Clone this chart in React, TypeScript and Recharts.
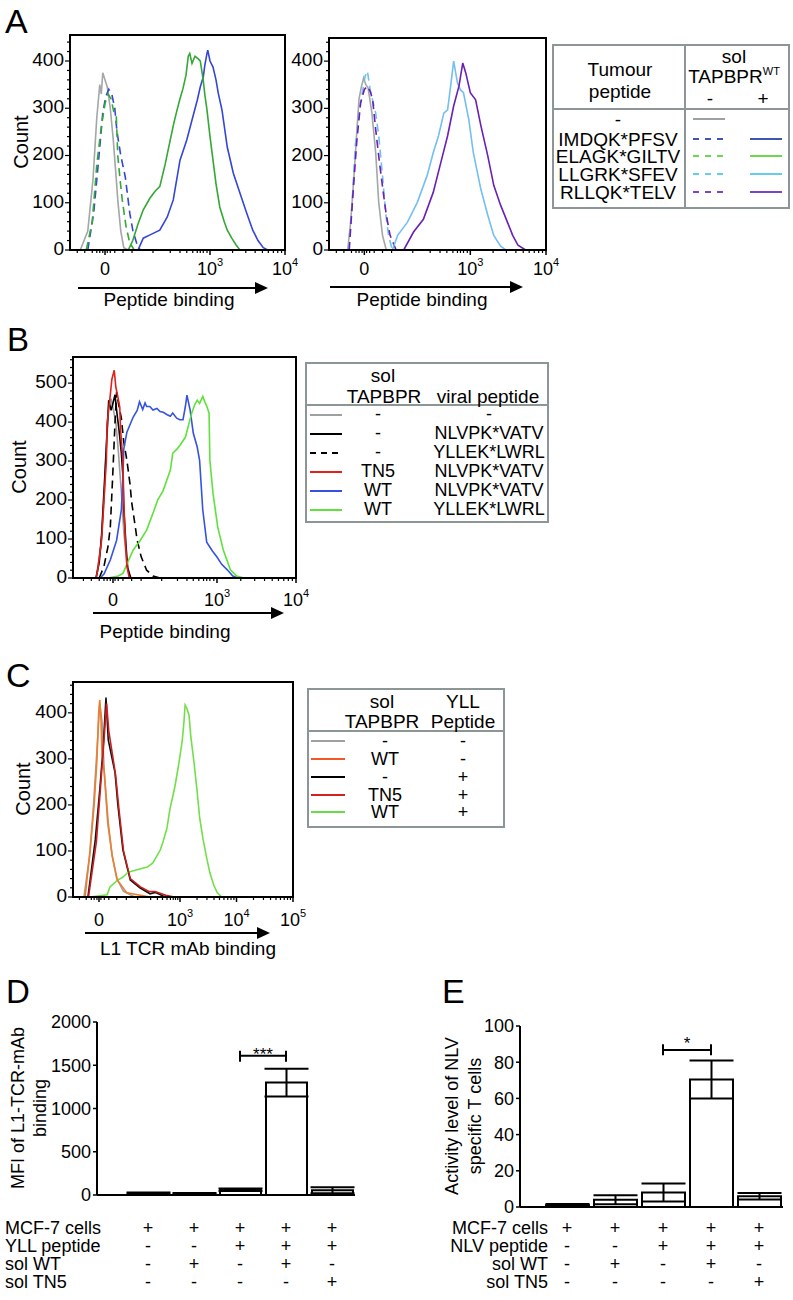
import React from 'react';
import {
  LineChart, Line, XAxis, YAxis, ReferenceArea, BarChart, Bar, ErrorBar, ReferenceLine,
} from 'recharts';

const FONT = '"Liberation Sans", Arial, Helvetica, sans-serif';

type Pt = [number, number];

// x = display position in decades (biexponential-ish), y = count

// Panel A left
const aLeftNone: Pt[] = [[1.27,0],[1.37,40],[1.44,150],[1.49,280],[1.53,350],[1.55,330],[1.57,375],[1.60,360],[1.63,345],[1.67,300],[1.71,233],[1.75,150],[1.77,106],[1.81,40],[1.85,5],[1.91,0]];
const aImdqkNo: Pt[] = [[1.37,0],[1.45,80],[1.52,200],[1.57,290],[1.61,325],[1.65,340],[1.69,330],[1.73,300],[1.76,250],[1.81,200],[1.87,155],[1.93,78],[1.97,42],[2.03,10],[2.07,0]];
const aElagkNo: Pt[] = [[1.35,0],[1.43,60],[1.49,180],[1.55,260],[1.60,310],[1.64,330],[1.68,320],[1.72,290],[1.75,285],[1.77,200],[1.80,150],[1.83,106],[1.88,50],[1.93,15],[1.99,0]];
const aImdqkWt: Pt[] = [[2.04,0],[2.11,25],[2.20,32],[2.33,42],[2.43,70],[2.51,106],[2.60,190],[2.69,233],[2.76,275],[2.83,317],[2.87,345],[2.91,366],[2.93,390],[2.96,416],[2.97,423],[3.00,400],[3.04,387],[3.08,360],[3.11,332],[3.16,296],[3.23,218],[3.31,163],[3.40,120],[3.49,78],[3.57,42],[3.64,20],[3.71,5],[3.77,0],[4,0]];
const aElagkWt: Pt[] = [[1.133,0],[1.91,0],[1.97,20],[2.04,55],[2.11,85],[2.20,110],[2.27,125],[2.33,134],[2.40,180],[2.47,233],[2.52,270],[2.56,296],[2.60,320],[2.64,342],[2.68,370],[2.71,410],[2.73,416],[2.76,395],[2.80,410],[2.84,405],[2.87,400],[2.91,359],[2.93,330],[2.96,296],[3.00,240],[3.04,190],[3.08,140],[3.13,91],[3.19,60],[3.23,42],[3.29,25],[3.35,10],[3.40,0]];

// Panel A right
const aRightNone: Pt[] = [[1.38,0],[1.42,60],[1.46,150],[1.50,250],[1.53,320],[1.56,345],[1.59,364],[1.62,350],[1.65,343],[1.70,290],[1.75,206],[1.79,101],[1.84,31],[1.89,0]];
const aLlgrkNo: Pt[] = [[1.39,0],[1.44,100],[1.48,221],[1.55,311],[1.61,368],[1.64,379],[1.68,337],[1.75,290],[1.79,242],[1.84,158],[1.88,80],[1.92,31],[1.97,0]];
const aRllqkNo: Pt[] = [[1.40,0],[1.45,120],[1.50,230],[1.55,311],[1.60,340],[1.64,347],[1.68,335],[1.71,318],[1.75,255],[1.80,185],[1.85,122],[1.89,74],[1.94,31],[2.02,0]];
const aLlgrkWt: Pt[] = [[1.97,0],[2.04,31],[2.17,59],[2.30,101],[2.43,158],[2.51,206],[2.58,242],[2.65,290],[2.70,297],[2.74,347],[2.78,400],[2.83,354],[2.87,339],[2.91,333],[2.98,276],[3.04,206],[3.14,128],[3.23,74],[3.31,31],[3.40,8],[3.47,0]];
const aRllqkWt: Pt[] = [[1.133,0],[2.12,0],[2.25,38],[2.38,65],[2.51,122],[2.61,185],[2.70,242],[2.78,305],[2.85,347],[2.90,396],[2.94,375],[3.00,333],[3.07,318],[3.14,263],[3.23,200],[3.31,137],[3.40,95],[3.49,59],[3.56,31],[3.63,10],[3.73,0],[4,0]];

// Panel B
const bNone: Pt[] = [[1.47,0],[1.53,80],[1.57,200],[1.60,330],[1.63,440],[1.66,460],[1.69,430],[1.72,400],[1.75,330],[1.79,220],[1.82,120],[1.86,40],[1.90,0]];
const bNlvNo: Pt[] = [[1.47,0],[1.51,40],[1.54,110],[1.58,260],[1.61,380],[1.63,456],[1.66,430],[1.68,445],[1.71,470],[1.73,430],[1.76,380],[1.79,320],[1.81,260],[1.82,180],[1.85,80],[1.87,25],[1.91,0]];
const bYllNo: Pt[] = [[1.51,0],[1.57,30],[1.62,80],[1.65,130],[1.68,260],[1.71,400],[1.73,477],[1.76,440],[1.79,410],[1.82,350],[1.86,302],[1.90,240],[1.92,195],[1.96,140],[1.99,97],[2.04,55],[2.11,20],[2.19,5],[2.28,0]];
const bNlvTn5: Pt[] = [[1.47,0],[1.49,20],[1.54,97],[1.57,200],[1.60,300],[1.61,397],[1.65,470],[1.67,510],[1.70,533],[1.72,490],[1.75,460],[1.77,438],[1.78,380],[1.81,300],[1.82,200],[1.84,97],[1.86,30],[1.89,0]];
const bNlvWt: Pt[] = [[1.52,0],[1.57,10],[1.65,46],[1.73,97],[1.79,175],[1.81,259],[1.82,330],[1.86,374],[1.94,413],[1.99,430],[2.02,452],[2.06,432],[2.09,449],[2.11,440],[2.15,440],[2.19,431],[2.24,435],[2.28,427],[2.32,425],[2.37,419],[2.41,415],[2.44,423],[2.49,410],[2.53,406],[2.57,406],[2.60,440],[2.62,469],[2.66,431],[2.70,372],[2.75,336],[2.78,302],[2.82,175],[2.87,92],[2.94,70],[3.00,54],[3.06,35],[3.13,21],[3.20,5],[3.27,0]];
const bYllWt: Pt[] = [[1.178,0],[1.62,0],[1.75,5],[1.81,12],[1.87,40],[1.94,72],[2.03,97],[2.11,123],[2.19,166],[2.25,200],[2.32,225],[2.41,277],[2.44,320],[2.49,330],[2.53,340],[2.60,361],[2.65,400],[2.68,423],[2.72,445],[2.75,456],[2.78,448],[2.82,466],[2.85,450],[2.87,441],[2.90,423],[2.91,302],[2.95,217],[3.01,130],[3.08,72],[3.17,21],[3.25,5],[3.34,0],[4,0]];

// Panel C
const cNone: Pt[] = [[1.30,0],[1.40,90],[1.47,200],[1.53,320],[1.58,420],[1.62,380],[1.66,270],[1.72,160],[1.80,90],[1.88,40],[2.00,12],[2.20,0]];
const cWtNo: Pt[] = [[1.32,0],[1.41,102],[1.48,200],[1.53,298],[1.56,400],[1.58,428],[1.60,390],[1.62,304],[1.66,270],[1.73,161],[1.80,89],[1.89,37],[2.06,9],[2.47,0]];
const cNoYll: Pt[] = [[1.37,0],[1.50,124],[1.58,233],[1.64,326],[1.69,433],[1.73,341],[1.85,270],[1.90,200],[1.99,102],[2.12,37],[2.29,20],[2.47,7],[2.56,10],[2.70,2],[2.82,0]];
const cTn5Yll: Pt[] = [[1.38,0],[1.52,120],[1.60,250],[1.66,350],[1.70,420],[1.74,360],[1.86,265],[1.92,190],[2.00,100],[2.12,40],[2.30,22],[2.45,12],[2.56,12],[2.75,4],[2.90,0],[5,0]];
const cWtYll: Pt[] = [[1.41,0],[1.71,5],[1.76,22],[1.90,37],[1.99,43],[2.08,54],[2.24,59],[2.42,65],[2.52,74],[2.65,102],[2.70,120],[2.77,150],[2.82,190],[2.91,240],[2.98,290],[3.04,340],[3.07,380],[3.09,417],[3.12,410],[3.16,395],[3.19,350],[3.25,290],[3.30,233],[3.35,170],[3.41,124],[3.48,80],[3.53,52],[3.60,25],[3.66,9],[3.74,0]];

// x-axis ticks (display decades)
const abMajorBase = ['0', '10', '10'];
const abMajorExp = ['', '3', '4'];
const cMajorBase = ['0', '10', '10', '10'];
const cMajorExp = ['', '3', '4', '5'];
const aMajor = [1.6, 3, 4];
const aMinor = [1.23, 1.33, 1.43, 1.49, 1.53, 1.57, 1.63, 1.67, 1.73, 1.84, 1.96, 2.24, 2.47, 2.60, 2.69, 2.77, 2.83, 2.87, 2.91, 2.96, 3.301, 3.477, 3.602, 3.699, 3.778, 3.845, 3.903, 3.954];
const bMajor = [1.684, 3, 4];
const bMinor = [1.31, 1.41, 1.51, 1.57, 1.61, 1.65, 1.71, 1.75, 1.81, 1.92, 2.04, 2.30, 2.50, 2.62, 2.70, 2.77, 2.83, 2.87, 2.91, 2.96, 3.301, 3.477, 3.602, 3.699, 3.778, 3.845, 3.903, 3.954];
const cMajor = [1.566, 3, 4, 5];
const cMinor = [1.22, 1.34, 1.43, 1.48, 1.53, 1.60, 1.66, 1.74, 1.88, 2.05, 2.25, 2.48, 2.60, 2.69, 2.77, 2.83, 2.88, 2.92, 2.96, 3.301, 3.477, 3.602, 3.699, 3.778, 3.845, 3.903, 3.954, 4.301, 4.477, 4.602, 4.699, 4.778, 4.845, 4.903, 4.954];

// legends
const aLegendPeptides = ['-', 'IMDQK*PFSV', 'ELAGK*GILTV', 'LLGRK*SFEV', 'RLLQK*TELV'];
const aLegendColors = ['#9aa3a3', '#3f56b5', '#6bd84f', '#66ccee', '#7b45c8'];
const bLegendTapbpr = ['-', '-', '-', 'TN5', 'WT', 'WT'];
const bLegendPeptide = ['-', 'NLVPK*VATV', 'YLLEK*LWRL', 'NLVPK*VATV', 'NLVPK*VATV', 'YLLEK*LWRL'];
const bLegendColors = ['#a0a0a0', '#000000', '#000000', '#e0201b', '#3553e0', '#5fe23c'];
const bLegendDashed = [false, false, true, false, false, false];
const cLegendTapbpr = ['-', 'WT', '-', 'TN5', 'WT'];
const cLegendPeptide = ['-', '-', '+', '+', '+'];
const cLegendColors = ['#a0a0a0', '#f05a28', '#000000', '#d42020', '#66dd44'];

// Panels D and E
const groups = ['g1', 'g2', 'g3', 'g4', 'g5'];
const dMfi = [20, 15, 60, 1300, 55];
const dMfiErr = [10, 8, 15, 160, 35];
const dRowLabels = ['MCF-7 cells', 'YLL peptide', 'sol WT', 'sol TN5'];
const dRows = [['+', '+', '+', '+', '+'], ['-', '-', '+', '+', '+'], ['-', '+', '-', '+', '-'], ['-', '-', '-', '-', '+']];
const eActivity = [1, 4, 8, 70.5, 6];
const eActivityErr = [0.6, 2.5, 5, 10.5, 1.8];
const eRowLabels = ['MCF-7 cells', 'NLV peptide', 'sol WT', 'sol TN5'];
const eRows = [['+', '+', '+', '+', '+'], ['-', '-', '+', '+', '+'], ['-', '+', '-', '+', '-'], ['-', '-', '-', '-', '+']];

const rowY = [1228, 1246, 1264, 1282];

type Curve = { pts: Pt[]; color: string; dashed?: boolean };

function FlowPlot(props: any) {
  const { plotLeft, plotTop, plotW, plotH, xDomain, yMax, xMajor, xBase, xExp, xMinor, labelDy, curves } = props;
  const yAxisW = 62, mTop = 4, mRight = 24, xAxisH = 40;
  const w = yAxisW + plotW + mRight;
  const h = mTop + plotH + xAxisH;
  const yTicks: number[] = [];
  for (let v = 0; v <= yMax; v += 20) yTicks.push(v);
  const xTicks = [...xMajor, ...xMinor].sort((a: number, b: number) => a - b);

  const xTick = (p: any) => {
    const { x, y, payload } = p;
    const i = xMajor.findIndex((v: number) => Math.abs(v - payload.value) < 1e-6);
    if (i < 0) return <line x1={x} x2={x} y1={y} y2={y + 3} stroke="#000" strokeWidth={1.2} />;
    return (
      <g>
        <line x1={x} x2={x} y1={y} y2={y + 5} stroke="#000" strokeWidth={1.5} />
        <text x={x} y={y + labelDy} textAnchor="middle" fontSize={18} fontFamily={FONT} fill="#000">
          {xBase[i]}
          {xExp[i] ? <tspan fontSize={11} dy={-9}>{xExp[i]}</tspan> : null}
        </text>
      </g>
    );
  };
  const yTick = (p: any) => {
    const { x, y, payload } = p;
    const major = payload.value % 100 === 0;
    return (
      <g>
        <line x1={x - (major ? 5 : 3)} x2={x} y1={y} y2={y} stroke="#000" strokeWidth={1.2} />
        {major ? (
          <text x={x - 6} y={y + 5} textAnchor="end" fontSize={19} fontFamily={FONT} fill="#000">{payload.value}</text>
        ) : null}
      </g>
    );
  };

  return (
    <div style={{ position: 'absolute', left: plotLeft - yAxisW, top: plotTop - mTop, width: w, height: h }}>
      <LineChart width={w} height={h} margin={{ top: mTop, right: mRight, bottom: 0, left: 0 }}>
        <XAxis type="number" dataKey="x" domain={xDomain} ticks={xTicks} interval={0} allowDataOverflow
          height={xAxisH} tick={xTick} tickLine={false} tickSize={0} tickMargin={0}
          axisLine={{ stroke: '#000', strokeWidth: 2 }} />
        <YAxis type="number" dataKey="y" domain={[0, yMax]} ticks={yTicks} interval={0} allowDataOverflow
          width={yAxisW} tick={yTick} tickLine={false} tickSize={0} tickMargin={0}
          axisLine={{ stroke: '#000', strokeWidth: 2 }} />
        <ReferenceArea x1={xDomain[0]} x2={xDomain[1]} y1={0} y2={yMax} fill="none" stroke="#000" strokeWidth={2} />
        {curves.map((c: Curve, k: number) => (
          <Line key={k} data={c.pts.map(([x, y]) => ({ x, y }))} dataKey="y" type="linear" dot={false}
            stroke={c.color} strokeWidth={1.6} strokeDasharray={c.dashed ? '8 5' : undefined}
            isAnimationActive={false} />
        ))}
      </LineChart>
    </div>
  );
}

function BarPanel(props: any) {
  const { left, top, yAxisW, padLeft, bandW, barSize, plotH, yMax, yTicks, values, errors, rows, axisY, bracket, stars, starOffset } = props;
  const mTop = 10, mRight = 5, xAxisH = 100;
  const w = yAxisW + padLeft + bandW * groups.length + mRight;
  const h = mTop + plotH + xAxisH;
  const data = groups.map((g, i) => ({ g, v: values[i], err: errors[i] }));
  const rowsTick = (p: any) => {
    const { x, y, payload } = p;
    const i = groups.indexOf(payload.value);
    return (
      <g>
        {rows.map((r: string[], k: number) => (
          <text key={k} x={x} y={y + rowY[k] - axisY} textAnchor="middle" dominantBaseline="central"
            fontSize={18} fontFamily={FONT} fill="#000">{r[i]}</text>
        ))}
      </g>
    );
  };
  return (
    <div style={{ position: 'absolute', left, top, width: w, height: h }}>
      <BarChart width={w} height={h} data={data} margin={{ top: mTop, right: mRight, bottom: 0, left: 0 }}>
        <XAxis dataKey="g" type="category" padding={{ left: padLeft, right: 0 }} interval={0}
          height={xAxisH} tick={rowsTick} tickLine={false} tickSize={0} tickMargin={0}
          axisLine={{ stroke: '#000', strokeWidth: 2 }} />
        <YAxis type="number" domain={[0, yMax]} ticks={yTicks} interval={0} width={yAxisW}
          tick={{ fill: '#000', fontSize: 18, fontFamily: FONT }} tickSize={4} tickMargin={2}
          tickLine={{ stroke: '#000', strokeWidth: 1.5 }} axisLine={{ stroke: '#000', strokeWidth: 2 }} />
        <Bar dataKey="v" fill="#fff" stroke="#000" strokeWidth={2} barSize={barSize} isAnimationActive={false}>
          <ErrorBar dataKey="err" width={22} stroke="#000" strokeWidth={2} direction="y" />
        </Bar>
        <ReferenceLine segment={[{ x: 'g3', y: bracket[1] }, { x: 'g4', y: bracket[1] }]} stroke="#000" strokeWidth={2}
          label={{ value: stars, position: 'top', offset: starOffset, fill: '#000', fontSize: 17, fontFamily: FONT }} />
        <ReferenceLine segment={[{ x: 'g3', y: bracket[0] }, { x: 'g3', y: bracket[2] }]} stroke="#000" strokeWidth={2} />
        <ReferenceLine segment={[{ x: 'g4', y: bracket[0] }, { x: 'g4', y: bracket[2] }]} stroke="#000" strokeWidth={2} />
      </BarChart>
    </div>
  );
}

const Txt = (p: any) => (
  <text x={p.x} y={p.y} fontSize={p.size || 19} textAnchor={p.anchor || 'middle'} dominantBaseline="central"
    fontFamily={FONT} fill="#000" transform={p.rot ? `rotate(-90 ${p.x} ${p.y})` : undefined}>{p.children}</text>
);

const Arrow = ({ x1, x2, y }: any) => (
  <g>
    <line x1={x1} x2={x2 - 10} y1={y} y2={y} stroke="#000" strokeWidth={2} />
    <polygon points={`${x2 - 13},${y - 6} ${x2},${y} ${x2 - 13},${y + 6}`} fill="#000" />
  </g>
);

function Overlay() {
  const grey = '#8c9696';
  return (
    <svg width={793} height={1300} style={{ position: 'absolute', left: 0, top: 0 }}>
      {/* panel letters */}
      <text x={5} y={33} fontSize={34} fontFamily={FONT}>A</text>
      <text x={7} y={351} fontSize={33} fontFamily={FONT}>B</text>
      <text x={6} y={687} fontSize={34} fontFamily={FONT}>C</text>
      <text x={6} y={1003} fontSize={33} fontFamily={FONT}>D</text>
      <text x={442} y={1003} fontSize={34} fontFamily={FONT}>E</text>

      {/* axis titles for histograms */}
      <Txt x={21} y={142} size={20} rot>Count</Txt>
      <Txt x={19} y={467} size={20} rot>Count</Txt>
      <Txt x={23} y={789} size={20} rot>Count</Txt>
      <Arrow x1={78} x2={268} y={288} />
      <text x={169} y={306} fontSize={19} textAnchor="middle" fontFamily={FONT}>Peptide binding</text>
      <Arrow x1={330} x2={523} y={287} />
      <text x={422} y={306} fontSize={19} textAnchor="middle" fontFamily={FONT}>Peptide binding</text>
      <Arrow x1={93} x2={284} y={613} />
      <text x={165} y={638} fontSize={19} textAnchor="middle" fontFamily={FONT}>Peptide binding</text>
      <Arrow x1={85} x2={270} y={933} />
      <text x={188} y={955} fontSize={19} textAnchor="middle" fontFamily={FONT}>L1 TCR mAb binding</text>

      {/* legend A */}
      <rect x={553} y={45} width={236} height={163} fill="none" stroke={grey} strokeWidth={2} />
      <line x1={685} x2={685} y1={45} y2={208} stroke={grey} strokeWidth={2} />
      <line x1={553} x2={789} y1={109} y2={109} stroke={grey} strokeWidth={2} />
      <Txt x={620} y={69}>Tumour</Txt>
      <Txt x={620} y={91}>peptide</Txt>
      <Txt x={734} y={56}>sol</Txt>
      <text x={734} y={83} fontSize={19} textAnchor="middle" fontFamily={FONT}>TAPBPR<tspan fontSize={11} dy={-8}>WT</tspan></text>
      <Txt x={710} y={98}>-</Txt>
      <Txt x={763} y={98}>+</Txt>
      {aLegendPeptides.map((p, i) => {
        const y = [119, 139, 156, 174, 192][i];
        return (
          <g key={p}>
            <Txt x={618} y={y}>{p}</Txt>
            {i === 0 ? (
              <line x1={693} x2={725} y1={y} y2={y} stroke={aLegendColors[i]} strokeWidth={2} />
            ) : (
              <g>
                <line x1={693} x2={725} y1={y} y2={y} stroke={aLegendColors[i]} strokeWidth={2} strokeDasharray="6 6" />
                <line x1={750} x2={782} y1={y} y2={y} stroke={aLegendColors[i]} strokeWidth={2} />
              </g>
            )}
          </g>
        );
      })}

      {/* legend B */}
      <rect x={306} y={363} width={242} height={159} fill="none" stroke={grey} strokeWidth={2} />
      <line x1={306} x2={548} y1={405} y2={405} stroke={grey} strokeWidth={2} />
      <Txt x={383} y={375}>sol</Txt>
      <Txt x={384} y={396}>TAPBPR</Txt>
      <Txt x={488} y={396}>viral peptide</Txt>
      {bLegendTapbpr.map((t, i) => {
        const y = [414, 433, 452, 471, 490, 509][i];
        return (
          <g key={i}>
            <line x1={310} x2={342} y1={y + 1} y2={y + 1} stroke={bLegendColors[i]} strokeWidth={2}
              strokeDasharray={bLegendDashed[i] ? '6 5' : undefined} />
            <Txt x={378} y={y} size={18}>{t}</Txt>
            <Txt x={489} y={y} size={18}>{bLegendPeptide[i]}</Txt>
          </g>
        );
      })}

      {/* legend C */}
      <rect x={308} y={689} width={196} height={138} fill="none" stroke={grey} strokeWidth={2} />
      <line x1={308} x2={504} y1={731} y2={731} stroke={grey} strokeWidth={2} />
      <Txt x={382} y={701}>sol</Txt>
      <Txt x={382} y={721}>TAPBPR</Txt>
      <Txt x={463} y={701}>YLL</Txt>
      <Txt x={463} y={721}>Peptide</Txt>
      {cLegendTapbpr.map((t, i) => {
        const y = [741, 759, 777, 795, 812][i];
        return (
          <g key={i}>
            <line x1={311} x2={345} y1={y} y2={y} stroke={cLegendColors[i]} strokeWidth={2} />
            <Txt x={385} y={y} size={18}>{t}</Txt>
            <Txt x={463} y={y} size={18}>{cLegendPeptide[i]}</Txt>
          </g>
        );
      })}

      {/* D and E titles and row labels */}
      <Txt x={18} y={1108} size={18} rot>MFI of L1-TCR-mAb</Txt>
      <Txt x={40} y={1108} size={18} rot>binding</Txt>
      <Txt x={452} y={1116} size={18} rot>Activity level of NLV</Txt>
      <Txt x={475} y={1116} size={18} rot>specific  T cells</Txt>
      {dRowLabels.map((l, k) => (
        <Txt key={l} x={5} y={rowY[k]} size={18} anchor="start">{l}</Txt>
      ))}
      {eRowLabels.map((l, k) => (
        <Txt key={l} x={548} y={rowY[k]} size={18} anchor="end">{l}</Txt>
      ))}
    </svg>
  );
}

export default function App() {
  return (
    <div style={{ position: 'absolute', left: 0, top: 0, width: 793, height: 1300, background: '#fff', overflow: 'hidden', fontFamily: FONT }}>
      <Overlay />
      <FlowPlot plotLeft={70} plotTop={35} plotW={215} plotH={215} xDomain={[1.133, 4]} yMax={455}
        xMajor={aMajor} xBase={abMajorBase} xExp={abMajorExp} xMinor={aMinor} labelDy={25}
        curves={[
          { pts: aLeftNone, color: '#a3a7a7' },
          { pts: aImdqkNo, color: '#3346d8', dashed: true },
          { pts: aElagkNo, color: '#34a834', dashed: true },
          { pts: aImdqkWt, color: '#3346d8' },
          { pts: aElagkWt, color: '#34a834' },
        ]} />
      <FlowPlot plotLeft={329} plotTop={38} plotW={217} plotH={212} xDomain={[1.133, 4]} yMax={449}
        xMajor={aMajor} xBase={abMajorBase} xExp={abMajorExp} xMinor={aMinor} labelDy={25}
        curves={[
          { pts: aRightNone, color: '#a3a7a7' },
          { pts: aLlgrkNo, color: '#74bff0', dashed: true },
          { pts: aRllqkNo, color: '#6a1fb5', dashed: true },
          { pts: aLlgrkWt, color: '#74bff0' },
          { pts: aRllqkWt, color: '#6a1fb5' },
        ]} />
      <FlowPlot plotLeft={73} plotTop={357} plotW={223} plotH={221} xDomain={[1.178, 4]} yMax={567}
        xMajor={bMajor} xBase={abMajorBase} xExp={abMajorExp} xMinor={bMinor} labelDy={28}
        curves={[
          { pts: bNone, color: '#a0a0a0' },
          { pts: bNlvNo, color: '#000000' },
          { pts: bYllNo, color: '#000000', dashed: true },
          { pts: bNlvWt, color: '#3553e0' },
          { pts: bYllWt, color: '#5fe23c' },
          { pts: bNlvTn5, color: '#e0201b' },
        ]} />
      <FlowPlot plotLeft={73} plotTop={682} plotW={220} plotH={215} xDomain={[1.106, 5]} yMax={467}
        xMajor={cMajor} xBase={cMajorBase} xExp={cMajorExp} xMinor={cMinor} labelDy={29}
        curves={[
          { pts: cNone, color: '#a0a0a0' },
          { pts: cNoYll, color: '#111111' },
          { pts: cWtYll, color: '#70e048' },
          { pts: cWtNo, color: '#f07d2c' },
          { pts: cTn5Yll, color: '#c81e1e' },
        ]} />
      <BarPanel left={0} top={1012} yAxisW={97} padLeft={28} bandW={46} barSize={41} plotH={173}
        yMax={2000} yTicks={[0, 500, 1000, 1500, 2000]} values={dMfi} errors={dMfiErr} rows={dRows}
        axisY={1195} bracket={[1540, 1609, 1667]} stars="***" starOffset={-4} />
      <BarPanel left={440} top={1016} yAxisW={80} padLeft={23} bandW={48} barSize={43} plotH={181}
        yMax={100} yTicks={[0, 20, 40, 60, 80, 100]} values={eActivity} errors={eActivityErr} rows={eRows}
        axisY={1207} bracket={[83.9, 86.7, 89.9]} stars="*" starOffset={1} />
    </div>
  );
}
